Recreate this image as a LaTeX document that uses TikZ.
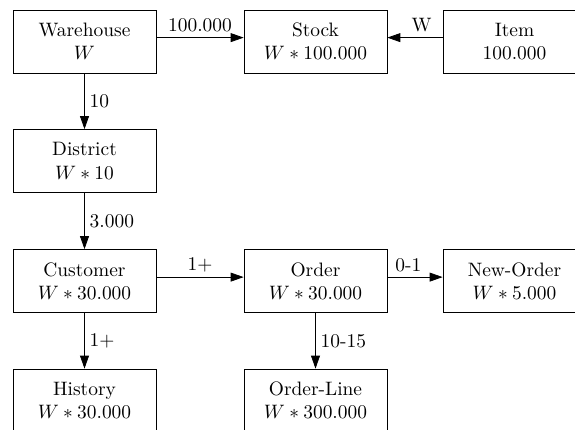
\documentclass[tikz,border=0pt]{standalone}
\usetikzlibrary{arrows.meta}
\begin{document}
\begin{tikzpicture}[x=0.515pt,y=-0.515pt,
  entity/.style={draw, minimum width=73.6pt, minimum height=32.4pt,
    inner sep=0pt, align=center,
    execute at begin node={\rule{0pt}{9.9pt}}},
  rel/.style={-{Triangle[length=6.7pt,width=4.6pt]}},
  lbl/.style={inner sep=2.5pt, font=\normalsize}]
  \useasboundingbox (0,0) rectangle (575,430);

  % entities
  \node[entity] (wh)  at (84.5,41.5)  {Warehouse\\$W$};
  \node[entity] (st)  at (315.5,41.5) {Stock\\$W * 100.000$};
  \node[entity] (it)  at (514.5,41.5) {Item\\100.000};
  \node[entity] (di)  at (84.5,161)   {District\\$W * 10$};
  \node[entity] (cu)  at (84.5,281)   {Customer\\$W * 30.000$};
  \node[entity] (or)  at (315.5,281)  {Order\\$W * 30.000$};
  \node[entity] (no)  at (514.5,281)  {New-Order\\$W * 5.000$};
  \node[entity] (hi)  at (84.5,400.5) {History\\$W * 30.000$};
  \node[entity] (ol)  at (315.5,400.5){Order-Line\\$W * 300.000$};

  % relationships
  \draw[rel] ([yshift=2pt]wh.east) -- node[lbl,above] {100.000} ([yshift=2pt]st.west);
  \draw[rel] ([yshift=2pt]it.west) -- node[lbl,above,pos=0.38] {W} ([yshift=2pt]st.east);
  \draw[rel] (wh.south) -- node[lbl,right] {10} (di.north);
  \draw[rel] (di.south) -- node[lbl,right] {3.000} (cu.north);
  \draw[rel] ([yshift=2pt]cu.east) -- node[lbl,above] {1+} ([yshift=2pt]or.west);
  \draw[rel] ([yshift=2pt]or.east) -- node[lbl,above,pos=0.38] {0-1} ([yshift=2pt]no.west);
  \draw[rel] (cu.south) -- node[lbl,right] {1+} (hi.north);
  \draw[rel] (or.south) -- node[lbl,right] {10-15} (ol.north);
\end{tikzpicture}
\end{document}
